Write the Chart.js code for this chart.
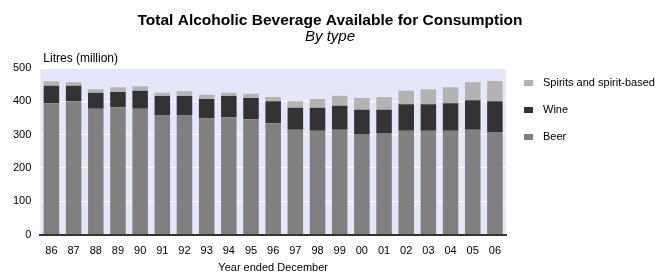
<!DOCTYPE html>
<html lang="en">
<head>
<meta charset="UTF-8">
<title>Total Alcoholic Beverage Available for Consumption</title>
<script src="https://cdn.jsdelivr.net/npm/chart.js@4.4.0/dist/chart.umd.min.js"></script>
<style>
  body { margin: 0; background: #fff; }
  #wrap { width: 656px; height: 275px; }
</style>
</head>
<body>
<div id="wrap"><canvas id="chart" width="656" height="275"></canvas></div>
<script>
// years (x categories)
const years = ["86","87","88","89","90","91","92","93","94","95","96",
               "97","98","99","00","01","02","03","04","05","06"];
// litres (million)
const beer    = [394,400,378,382,378,359,359,349,352,346,334,315,312,315,302,305,312,312,312,315,308];
const wine    = [ 53, 47, 48, 46, 54, 57, 57, 58, 64, 64, 66, 66, 69, 72, 73, 70, 79, 79, 82, 88, 92];
const spirits = [ 13, 10, 10, 14, 13, 10, 14, 13, 10, 13, 13, 19, 26, 30, 35, 38, 41, 45, 48, 54, 61];
const yTicks  = [0,100,200,300,400,500];

const FONT = "'Liberation Sans', Arial, sans-serif";

// plot background, "Litres (million)" label and the legend on the right
const extras = {
  id: "extras",
  beforeDraw(chart) {
    const { ctx, chartArea: a } = chart;
    ctx.save();
    ctx.fillStyle = "#e6e6fa";
    ctx.fillRect(a.left, a.top, a.right - a.left, a.bottom - a.top);
    ctx.restore();
  },
  afterDraw(chart) {
    const { ctx, chartArea: a } = chart;
    ctx.save();
    ctx.fillStyle = "#000";
    ctx.font = "12px " + FONT;
    ctx.textBaseline = "alphabetic";
    ctx.fillText("Litres (million)", a.left + 3, a.top - 6);

    // legend, top item = last dataset
    const sets = chart.data.datasets.slice().reverse();
    ctx.font = "11px " + FONT;
    ctx.textBaseline = "middle";
    sets.forEach((ds, i) => {
      const y = a.top + 15 + i * 27;
      ctx.fillStyle = ds.backgroundColor;
      ctx.fillRect(a.right + 18, y - 3, 9, 6);
      ctx.fillStyle = "#000";
      ctx.fillText(ds.label, a.right + 37, y);
    });
    ctx.restore();
  }
};

new Chart(document.getElementById("chart"), {
  type: "bar",
  plugins: [extras],
  data: {
    labels: years,
    datasets: [
      { label: "Beer", data: beer, backgroundColor: "#808080" },
      { label: "Wine", data: wine, backgroundColor: "#333333" },
      { label: "Spirits and spirit-based", data: spirits, backgroundColor: "#b3b3b3" }
    ]
  },
  options: {
    responsive: false,
    animation: false,
    layout: { padding: { left: 4, right: 0, top: 0, bottom: 0 } },
    datasets: { bar: { categoryPercentage: 1, barPercentage: 0.7 } },
    plugins: {
      tooltip: { enabled: false },
      legend: { display: false },
      title: {
        display: true,
        text: "Total Alcoholic Beverage Available for Consumption",
        color: "#000",
        font: { family: FONT, size: 15.5, weight: "bold", lineHeight: 1 },
        padding: { top: 12.5, bottom: 1 }
      },
      subtitle: {
        display: true,
        text: "By type",
        color: "#000",
        font: { family: FONT, size: 15, style: "italic", lineHeight: 1 },
        padding: { top: 0, bottom: 24 }
      }
    },
    scales: {
      x: {
        stacked: true,
        grid: { display: false, drawTicks: false },
        border: { display: true, color: "#333", width: 2 },
        ticks: { color: "#000", font: { family: FONT, size: 11 }, padding: 9.5, maxRotation: 0 },
        title: {
          display: true,
          text: "Year ended December",
          color: "#000",
          font: { family: FONT, size: 11 },
          padding: { top: -5, bottom: 0 }
        }
      },
      y: {
        stacked: true,
        min: 0,
        max: 500,
        afterBuildTicks(axis) { axis.ticks = yTicks.map(v => ({ value: v })); },
        grid: { color: "#fff", lineWidth: 1, drawTicks: false },
        border: { display: false },
        ticks: { color: "#000", font: { family: FONT, size: 11 }, padding: 9 }
      },
      // empty axis on the right that keeps room for the legend
      legendRoom: {
        type: "linear",
        position: "right",
        grid: { display: false, drawTicks: false },
        border: { display: false },
        ticks: { display: false },
        afterFit(axis) { axis.width = 150; }
      }
    }
  }
});
</script>
</body>
</html>
